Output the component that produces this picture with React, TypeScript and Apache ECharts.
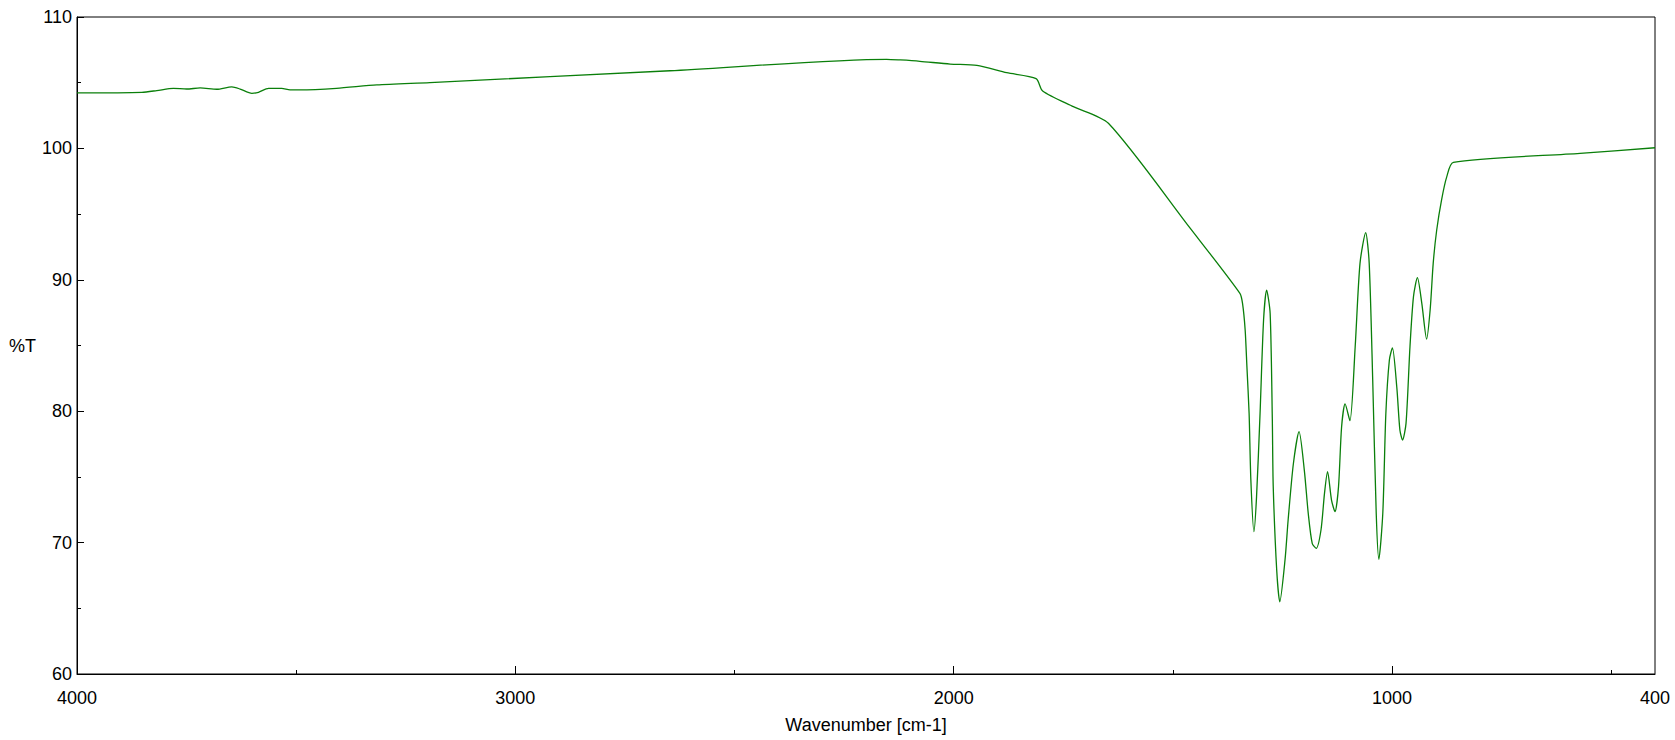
import { useEffect, useRef } from 'react';
import * as echarts from 'echarts';

// IR spectrum (wavenumber cm-1 -> %T)
const wavenumbers = [
  4000, 3852, 3818, 3780, 3750, 3719, 3681, 3647, 3628, 3601, 3586, 3563, 3533, 3514, 3491, 3408,
  3316, 3195, 2647, 2153, 2122, 2077, 2008, 1947, 1879, 1812, 1797, 1727, 1647, 1461, 1347, 1341,
  1335, 1331, 1326, 1322, 1315, 1309, 1301, 1293, 1286, 1278, 1273, 1271, 1263, 1256, 1244, 1237,
  1225, 1212, 1200, 1191, 1182, 1173, 1162, 1154, 1147, 1138, 1130, 1122, 1115, 1107, 1096, 1084,
  1073, 1060, 1052, 1044, 1036, 1030, 1021, 1014, 1006, 999, 989, 982, 976, 968, 959, 951, 942,
  932, 921, 913, 906, 898, 887, 875, 860, 571, 400,
];
const transmittance = [
  104.22, 104.27, 104.4, 104.57, 104.52, 104.6, 104.5, 104.68, 104.52, 104.19, 104.27, 104.57,
  104.57, 104.45, 104.45, 104.57, 104.83, 105.01, 105.91, 106.78, 106.73, 106.63, 106.42, 106.32,
  105.76, 105.31, 104.37, 103.18, 101.91, 93.95, 88.97, 88.2, 86.18, 83.39, 79.84, 74.76, 70.83,
  73.5, 79.84, 86.94, 89.22, 87.45, 79.3, 74.3, 67.9, 65.5, 68.7, 71.7, 76.0, 78.44, 75.5, 72.2,
  69.94, 69.56, 70.96, 73.75, 75.4, 73.24, 72.35, 74.26, 78.8, 80.55, 79.28, 84.91, 91.25, 93.59,
  91.25, 82.37, 72.23, 68.73, 72.23, 79.84, 83.9, 84.82, 81.8, 78.57, 77.81, 79.07, 84.91, 88.72,
  90.16, 88.21, 85.49, 87.7, 91.25, 93.79, 96.07, 97.85, 98.94, 99.62, 100.05,
];

const xLabelValues = [4000, 3000, 2000, 1000, 400];
const xMajorTicks = [3000, 2000, 1000];
const xMinorTicks = [3500, 2500, 1500, 500];

const FONT = "'Liberation Sans', Arial, sans-serif";

export default function App() {
  const chartRef = useRef<HTMLDivElement>(null);

  useEffect(() => {
    if (!chartRef.current) return;
    const chart = echarts.init(chartRef.current, undefined, { renderer: 'svg' });

    const baseX = {
      type: 'value',
      min: 400,
      max: 4000,
      inverse: true,
      splitLine: { show: false },
    };

    chart.setOption({
      animation: false,
      backgroundColor: '#fff',
      textStyle: { fontFamily: FONT },
      grid: {
        left: 77,
        right: 20,
        top: 17,
        bottom: 66,
        show: true,
        borderColor: '#000',
        borderWidth: 1,
      },
      xAxis: [
        {
          ...baseX,
          name: 'Wavenumber [cm-1]',
          nameLocation: 'middle',
          nameGap: 42,
          nameTextStyle: { color: '#000', fontSize: 18, fontFamily: FONT },
          axisLine: { show: true, lineStyle: { color: '#000', width: 1 } },
          axisTick: {
            show: true,
            inside: true,
            length: 8,
            customValues: xMajorTicks,
            lineStyle: { color: '#000' },
          },
          axisLabel: {
            customValues: xLabelValues,
            formatter: (v: number) => String(v),
            color: '#000',
            fontSize: 18,
            fontFamily: FONT,
            margin: 15,
          },
        },
        {
          ...baseX,
          position: 'bottom',
          axisLine: { show: false },
          axisTick: {
            show: true,
            inside: true,
            length: 4,
            customValues: xMinorTicks,
            lineStyle: { color: '#000' },
          },
          axisLabel: { show: false },
        },
      ],
      yAxis: {
        type: 'value',
        min: 60,
        max: 110,
        interval: 10,
        name: '%T',
        nameLocation: 'middle',
        nameRotate: 0,
        nameGap: 39,
        nameTextStyle: {
          color: '#000',
          fontSize: 18,
          fontFamily: FONT,
          align: 'right',
          padding: [25, 0, 0, 0],
        },
        splitLine: { show: false },
        axisLine: { show: true, lineStyle: { color: '#000', width: 1 } },
        axisTick: { show: true, inside: true, length: 7, lineStyle: { color: '#000' } },
        minorTick: { show: true, splitNumber: 2, length: 4, lineStyle: { color: '#000' } },
        axisLabel: {
          color: '#000',
          fontSize: 18,
          fontFamily: FONT,
          margin: 5,
          padding: [6, 0, 0, 0],
        },
      },
      series: [
        {
          type: 'line',
          data: wavenumbers.map((w, i) => [w, transmittance[i]]),
          showSymbol: false,
          smooth: 0.25,
          lineStyle: { color: '#0a7f0a', width: 1.3 },
          itemStyle: { color: '#0a7f0a' },
        },
      ],
    });

    const handleResize = () => chart.resize();
    window.addEventListener('resize', handleResize);
    return () => {
      window.removeEventListener('resize', handleResize);
      chart.dispose();
    };
  }, []);

  return (
    <div
      ref={chartRef}
      style={{ position: 'fixed', left: 0, top: 0, width: 1675, height: 740, background: '#fff' }}
    />
  );
}
